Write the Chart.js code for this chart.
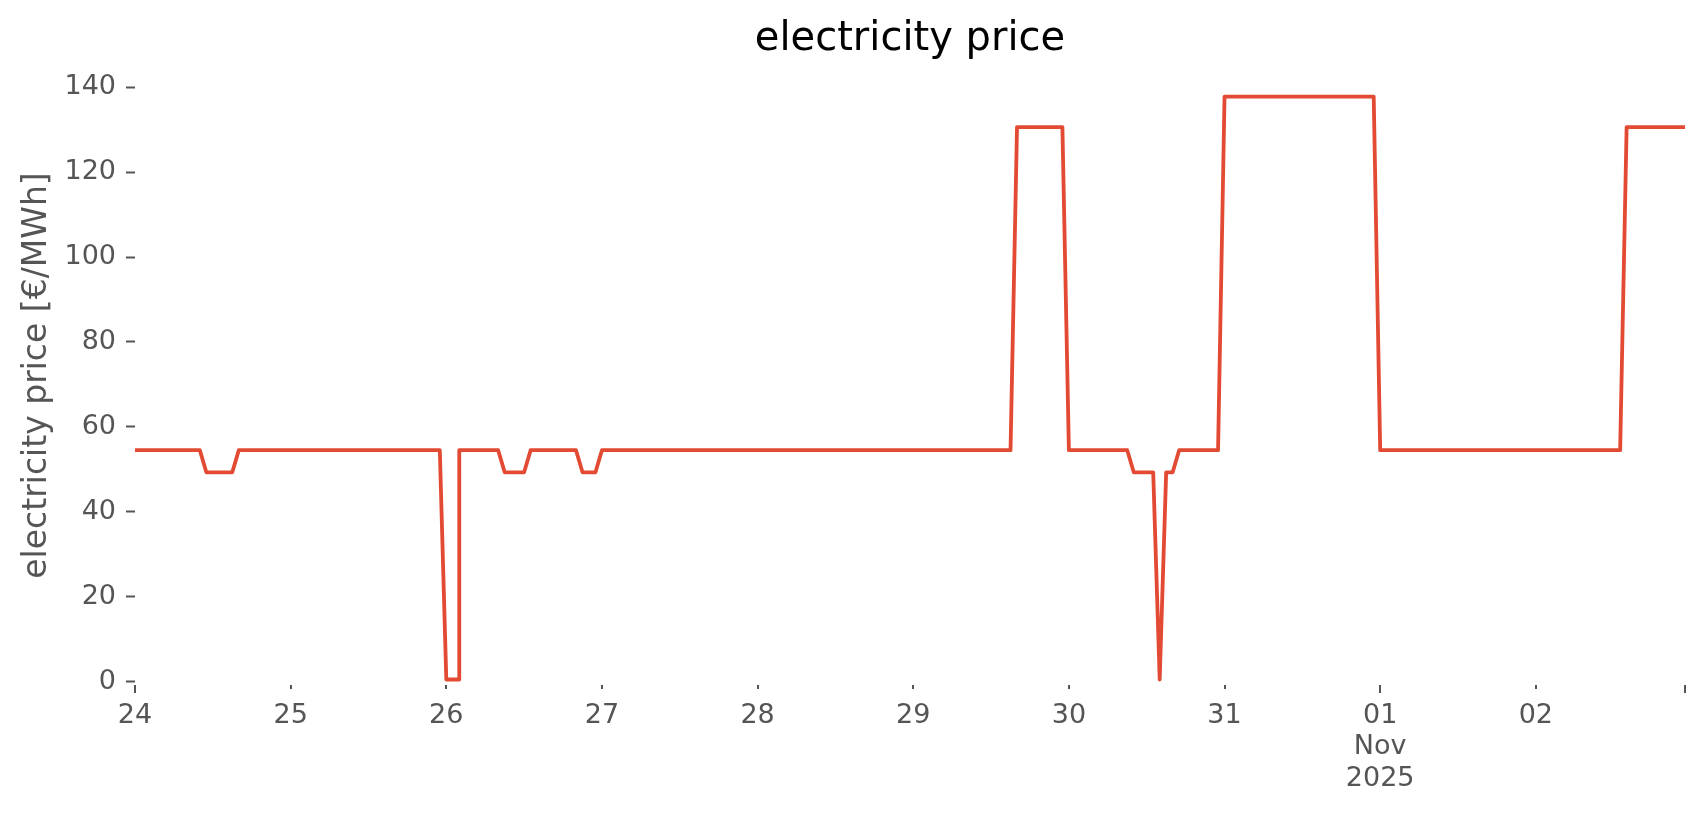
<!DOCTYPE html>
<html>
<head>
<meta charset="utf-8">
<title>electricity price</title>
<script src="https://cdn.jsdelivr.net/npm/chart.js"></script>
<style>
  html, body { margin: 0; padding: 0; background: #ffffff; }
  #wrap { width: 1706px; height: 815px; }
</style>
</head>
<body>
<div id="wrap"><canvas id="priceChart" width="1706" height="815"></canvas></div>
<script>
// --- hourly prices [€/MWh], one array per day (Oct 24 2025 .. Nov 2 2025) ---
const oct24 = [54.5, 54.5, 54.5, 54.5, 54.5, 54.5, 54.5, 54.5, 54.5, 54.5, 54.5, 49.3,
               49.3, 49.3, 49.3, 49.3, 54.5, 54.5, 54.5, 54.5, 54.5, 54.5, 54.5, 54.5];
const oct25 = [54.5, 54.5, 54.5, 54.5, 54.5, 54.5, 54.5, 54.5, 54.5, 54.5, 54.5, 54.5,
               54.5, 54.5, 54.5, 54.5, 54.5, 54.5, 54.5, 54.5, 54.5, 54.5, 54.5, 54.5];
// DST change: 02:00 appears twice
const oct26 = [0.5, 0.5, 0.5, 54.5, 54.5, 54.5, 54.5, 54.5, 54.5, 54.5, 49.3, 49.3, 49.3,
               49.3, 54.5, 54.5, 54.5, 54.5, 54.5, 54.5, 54.5, 54.5, 49.3, 49.3, 49.3];
const oct26Hours = [0, 1, 2, 2, 3, 4, 5, 6, 7, 8, 9, 10, 11, 12, 13, 14, 15, 16, 17, 18, 19, 20, 21, 22, 23];
const oct27 = [54.5, 54.5, 54.5, 54.5, 54.5, 54.5, 54.5, 54.5, 54.5, 54.5, 54.5, 54.5,
               54.5, 54.5, 54.5, 54.5, 54.5, 54.5, 54.5, 54.5, 54.5, 54.5, 54.5, 54.5];
const oct28 = [54.5, 54.5, 54.5, 54.5, 54.5, 54.5, 54.5, 54.5, 54.5, 54.5, 54.5, 54.5,
               54.5, 54.5, 54.5, 54.5, 54.5, 54.5, 54.5, 54.5, 54.5, 54.5, 54.5, 54.5];
const oct29 = [54.5, 54.5, 54.5, 54.5, 54.5, 54.5, 54.5, 54.5, 54.5, 54.5, 54.5, 54.5,
               54.5, 54.5, 54.5, 54.5, 130.6, 130.6, 130.6, 130.6, 130.6, 130.6, 130.6, 130.6];
const oct30 = [54.5, 54.5, 54.5, 54.5, 54.5, 54.5, 54.5, 54.5, 54.5, 54.5, 49.3, 49.3,
               49.3, 49.3, 0.5, 49.3, 49.3, 54.5, 54.5, 54.5, 54.5, 54.5, 54.5, 54.5];
const oct31 = [137.8, 137.8, 137.8, 137.8, 137.8, 137.8, 137.8, 137.8, 137.8, 137.8, 137.8, 137.8,
               137.8, 137.8, 137.8, 137.8, 137.8, 137.8, 137.8, 137.8, 137.8, 137.8, 137.8, 137.8];
const nov01 = [54.5, 54.5, 54.5, 54.5, 54.5, 54.5, 54.5, 54.5, 54.5, 54.5, 54.5, 54.5,
               54.5, 54.5, 54.5, 54.5, 54.5, 54.5, 54.5, 54.5, 54.5, 54.5, 54.5, 54.5];
const nov02 = [54.5, 54.5, 54.5, 54.5, 54.5, 54.5, 54.5, 54.5, 54.5, 54.5, 54.5, 54.5,
               54.5, 54.5, 130.6, 130.6, 130.6, 130.6, 130.6, 130.6, 130.6, 130.6, 130.6, 130.6];

const dayPrices = [oct24, oct25, oct26, oct27, oct28, oct29, oct30, oct31, nov01, nov02];

// --- axis ticks (x in hours since Oct 24 00:00) ---
const xTickHours = [0, 24, 48, 72, 96, 120, 144, 168, 192, 216, 239];
const xTickLabels = ['24', '25', '26', '27', '28', '29', '30', '31', ['01', 'Nov', '2025'], '02', ''];
const xMajorHours = [0, 192, 239];
const yTicks = [0, 20, 40, 60, 80, 100, 120, 140];

const TEXT_GREY = '#555555';
const FONT = "'DejaVu Sans', sans-serif";

// build the {x, y} points
const points = [];
dayPrices.forEach((prices, d) => {
    prices.forEach((p, i) => {
        const hour = prices === oct26 ? oct26Hours[i] : i;
        points.push({ x: d * 24 + hour, y: p });
    });
});

// tick marks under the x axis (long for major, short for minor)
const xTickMarks = {
    id: 'xTickMarks',
    afterDraw(chart) {
        const xs = chart.scales.x;
        const ctx = chart.ctx;
        ctx.save();
        ctx.strokeStyle = TEXT_GREY;
        ctx.lineWidth = 2;
        xs.ticks.forEach(t => {
            const px = Math.round(xs.getPixelForValue(t.value));
            const len = xMajorHours.includes(t.value) ? 8 : 4;
            ctx.beginPath();
            ctx.moveTo(px, xs.top);
            ctx.lineTo(px, xs.top + len);
            ctx.stroke();
        });
        ctx.restore();
    }
};

const ctx = document.getElementById('priceChart').getContext('2d');
new Chart(ctx, {
    type: 'line',
    data: {
        datasets: [{
            data: points,
            borderColor: '#E24A33',
            borderWidth: 3.8,
            borderJoinStyle: 'round',
            pointRadius: 0,
            tension: 0,
            fill: false
        }]
    },
    options: {
        responsive: false,
        animation: false,
        devicePixelRatio: 1,
        layout: { padding: { left: 0, right: 21, top: 0, bottom: 0 } },
        plugins: {
            legend: { display: false },
            tooltip: { enabled: false },
            title: {
                display: true,
                fullSize: false,   // centre over the plot area
                text: 'electricity price',
                color: '#000000',
                font: { family: FONT, size: 40, weight: 'normal' },
                padding: { top: 16, bottom: 2 }
            }
        },
        scales: {
            x: {
                type: 'linear',
                min: 0,
                max: 239,
                afterFit: s => { s.height = 130; },
                afterBuildTicks: s => { s.ticks = xTickHours.map(v => ({ value: v })); },
                grid: { display: false, drawTicks: false },
                border: { display: false },
                ticks: {
                    autoSkip: false,
                    maxRotation: 0,
                    padding: 15,
                    color: TEXT_GREY,
                    font: { family: FONT, size: 27, lineHeight: 1.17 },
                    callback: (value, index) => xTickLabels[index]
                }
            },
            y: {
                min: -0.8,
                max: 145,
                afterFit: s => { s.width = 135; },
                afterBuildTicks: s => { s.ticks = yTicks.map(v => ({ value: v })); },
                grid: {
                    drawOnChartArea: false,
                    drawTicks: true,
                    tickLength: 9,
                    tickWidth: 2,
                    tickColor: TEXT_GREY
                },
                border: { display: false },
                ticks: {
                    padding: 10,
                    color: TEXT_GREY,
                    font: { family: FONT, size: 27 }
                },
                title: {
                    display: true,
                    text: 'electricity price [€/MWh]',
                    color: TEXT_GREY,
                    font: { family: FONT, size: 33 },
                    padding: { top: 18, bottom: 0 }
                }
            }
        }
    },
    plugins: [xTickMarks]
});
</script>
</body>
</html>
